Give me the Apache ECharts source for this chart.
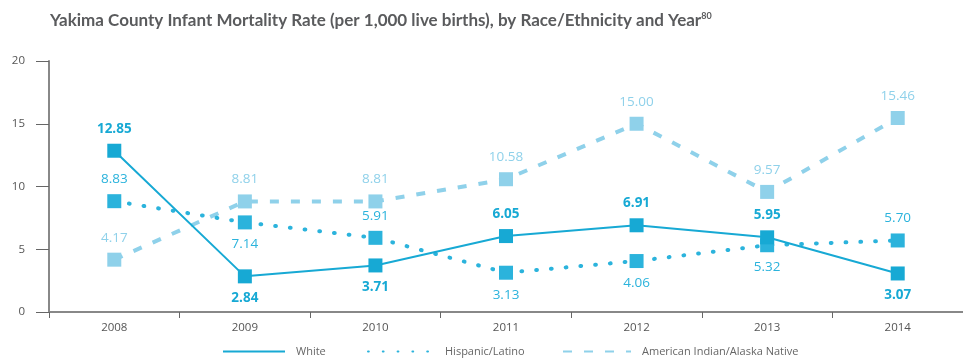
<!DOCTYPE html>
<html><head><meta charset="utf-8">
<script src="https://cdn.jsdelivr.net/npm/echarts@6/dist/echarts.min.js"></script>
<style>html,body{margin:0;padding:0;background:#fff}#c{width:963px;height:362px}</style>
</head><body><div id="c"></div>
<script>
const years = ['2008','2009','2010','2011','2012','2013','2014'];
const white = [12.85, 2.84, 3.71, 6.05, 6.91, 5.95, 3.07];
const hispanic = [8.83, 7.14, 5.91, 3.13, 4.06, 5.32, 5.70];
const aian = [4.17, 8.81, 8.81, 10.58, 15.00, 9.57, 15.46];
const whitePos = ['top','bottom','bottom','top','top','top','bottom'];
const hispPos = ['top','bottom','top','bottom','bottom','bottom','top'];
const aianPos = ['top','top','top','top','top','top','top'];
const yTicks = [0,5,10,15,20];

const cW = '#17a9d4', cH = '#2bb3dc', cA = '#8fd1ea';
const font = 'Open Sans';
function mk(vals, pos) {
  return vals.map((v,i)=>({value:v, label:{position:pos[i]}}));
}
function series(name, vals, pos, color, lblColor, weight, lineType, z){
  return {
    name, type:'line', data: mk(vals,pos), z,
    symbol:'rect', symbolSize:14, showSymbol:true,
    itemStyle:{color:color},
    lineStyle:{color:color, width: lineType==='solid'?2:4, type: lineType, cap: Array.isArray(lineType) && lineType[0]<2 ? 'round':'butt'},
    label:{show:true, distance:8, color:lblColor, fontFamily:font, fontSize:13.5, fontWeight:weight,
      formatter:p=>p.value.toFixed(2)},
    emphasis:{disabled:true}, animation:false
  };
}
const chart = echarts.init(document.getElementById('c'));
const legendCommon = {bottom:0, itemHeight:12, itemGap:0, itemStyle:{opacity:0},
  textStyle:{color:'#666', fontFamily:font, fontSize:11, padding:[0,0,0,6]}};
chart.setOption({
  animation:false,
  title:{text:'Yakima County Infant Mortality Rate (per 1,000 live births), by Race/Ethnicity and Year{s|80}',
    left:45, top:7,
    textStyle:{fontFamily:'Lato', fontWeight:'bold', fontSize:17, color:'#5a5b5d',
      rich:{s:{fontFamily:'Lato', fontWeight:'bold', fontSize:9, color:'#5a5b5d', verticalAlign:'top', padding:[0,0,9,0]}}}},
  legend:[
    Object.assign({}, legendCommon, {left:217, itemWidth:62, data:['White']}),
    Object.assign({}, legendCommon, {left:362, itemWidth:66, data:['Hispanic/Latino']}),
    Object.assign({}, legendCommon, {left:557, itemWidth:68, data:['American Indian/Alaska Native']})
  ],
  grid:{left:49, right:-7, top:61, bottom:50},
  xAxis:{type:'category', data:years, boundaryGap:true,
    axisLine:{lineStyle:{color:'#888', width:2}},
    axisTick:{show:true, length:6, lineStyle:{color:'#666', width:1}},
    axisLabel:{color:'#555', fontFamily:font, fontSize:11.5, margin:10}},
  yAxis:{type:'value', min:0, max:20, interval:5,
    axisLine:{show:true, lineStyle:{color:'#888', width:2}},
    axisTick:{show:true, inside:false, length:13, lineStyle:{color:'#666'}},
    splitLine:{show:false},
    axisLabel:{color:'#555', fontFamily:font, fontSize:11.5, margin:24}},
  series:[
    series('American Indian/Alaska Native', aian, aianPos, cA, cA, 'normal', [9,12], 2),
    series('Hispanic/Latino', hispanic, hispPos, cH, cH, 'normal', [0.8,14], 3),
    series('White', white, whitePos, cW, cW, 'bold', 'solid', 4)
  ]
});
</script></body></html>
